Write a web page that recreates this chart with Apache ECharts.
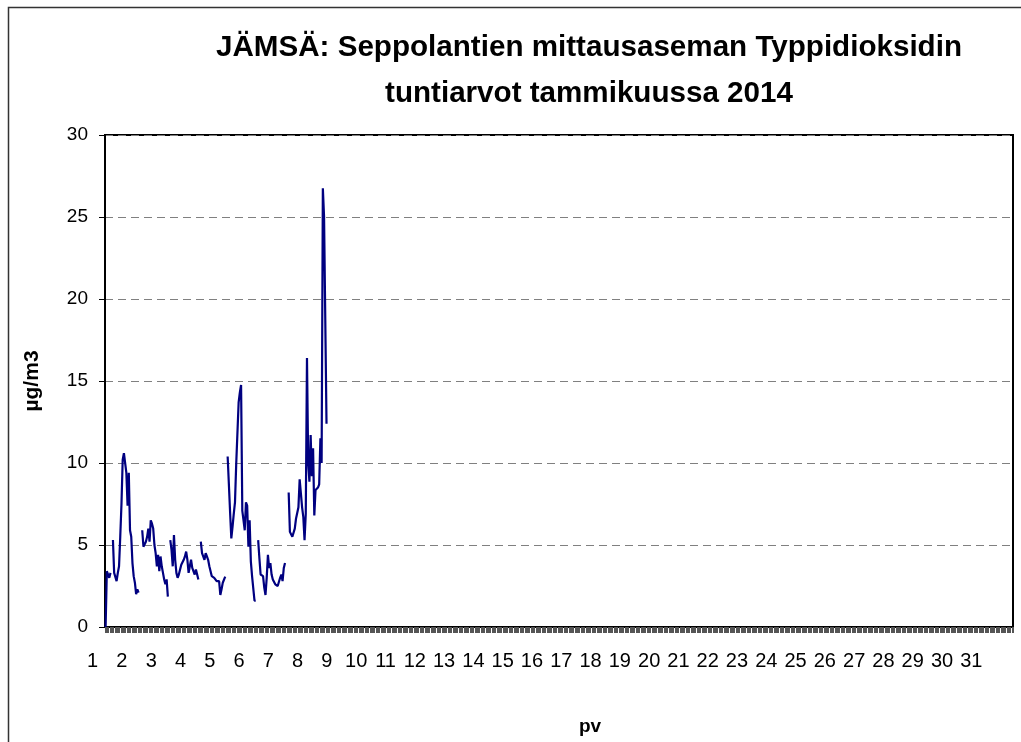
<!DOCTYPE html>
<html>
<head>
<meta charset="utf-8">
<script src="https://cdn.jsdelivr.net/npm/echarts@6/dist/echarts.min.js"></script>
<style>
  html, body { margin: 0; padding: 0; background: #fff; }
  #main { width: 1021px; height: 742px; }
</style>
</head>
<body>
<div id="main"></div>
<script>
// tammikuu 2014, tunnit 1.1. klo 0 alkaen
const dayLabels = ['1', '2', '3', '4', '5', '6', '7', '8', '9', '10', '11', '12', '13', '14', '15', '16',
  '17', '18', '19', '20', '21', '22', '23', '24', '25', '26', '27', '28', '29', '30', '31']
const hoursPerDay = 24
const yTicks = [0, 5, 10, 15, 20, 25, 30]

// NO2 tuntiarvot (µg/m3), null = puuttuva tunti
const no2Hourly = [
  0, 3.4, 3.3, 3.0, 3.3, null,
  5.3, 3.3, 3.4, 2.8, 3.3, 3.7, 5.5, 7.5, 10.2, 10.6, 10.6, 9.4, 7.4, 9.4, 5.9, 5.5, 3.9, 3.1, 2.7, 2.0, 2.3, 2.1,
  null, null,
  5.9, 4.9, 4.8, 5.2, 5.5, 6.0, 5.2, 6.5, 6.3, 6.0, 5.0, 4.5, 3.7, 4.4, 3.4, 4.3, 3.7, 3.3, 2.9, 2.6, 2.9, 1.85,
  null,
  5.3, 4.7, 3.7, 5.6, 4.1, 3.3, 3.0, 3.2, 3.1, 3.8, 3.9, 4.1, 4.3, 4.6, 4.1, 3.3, 3.7, 4.1, 3.6, 3.7, 3.2, 3.5, 3.2, 2.9,
  null,
  5.2, 4.5, 4.6, 4.1, 4.5, 4.3, 4.1, 3.7, 3.4, 3.1, 3.1, 3.0, 2.9, 2.8, 2.7, 2.8, 1.95, 2.3, 2.7, 2.7, 3.07,
  null,
  10.4, 8.7, 7.0, 5.4, 6.1, 6.9, 7.6, 9.9, 10.0, 13.7, 14.3, 14.76, 7.1, 6.5, 5.9, 7.6, 7.4, 4.9, 6.5, 4.0, 3.1, 3.07, 1.6, 1.6,
  null,
  5.3, 4.2, 3.2, 3.2, 3.1, 2.4, 1.95, 3.0, 4.4, 3.6, 3.9, 3.2, 2.9, 2.8, 2.6, 2.5, 2.5, 2.6, 3.0, 3.2, 2.8, 3.6, 3.9,
  null, null,
  8.2, 5.8, 5.7, 5.5, 5.4, 6.0, 6.6, 6.6, 7.3, 9.0, 9.07, 7.3, 6.7, 5.3, 6.9, 16.4, 10.0, 8.86, 11.7, 9.2, 10.9, 6.8,
  8.35, 8.4, 8.5, 8.7, 11.5, 10.0, 26.75, 25.0, 18.7, 12.4
]

let hourCategories = []
dayLabels.forEach(d => {
  for (let h = 0; h < hoursPerDay; h++) {
    hourCategories.push(d + ' ' + h + ':00')
  }
})

const font = '"Liberation Sans", Arial, sans-serif'
let chart = echarts.init(document.getElementById('main'))
chart.setOption({
  animation: false,
  backgroundColor: '#fff',
  grid: {
    left: 105,
    top: 135,
    right: 8,
    bottom: 115,
    containLabel: false,
    outerBoundsMode: 'none',
    show: true,
    borderColor: '#000',
    borderWidth: 2,
    backgroundColor: '#fff'
  },
  graphic: [
    {
      type: 'rect',
      shape: { x: 8.5, y: 7.5, width: 1040, height: 780 },
      style: { fill: null, stroke: '#333', lineWidth: 1.5 },
      silent: true
    },
    {
      type: 'text',
      x: 589,
      y: 48,
      style: {
        text: 'JÄMSÄ: Seppolantien mittausaseman Typpidioksidin',
        font: 'bold 29.6px ' + font,
        fill: '#000',
        align: 'center',
        verticalAlign: 'middle'
      }
    },
    {
      type: 'text',
      x: 589,
      y: 94,
      style: {
        text: 'tuntiarvot tammikuussa 2014',
        font: 'bold 29.6px ' + font,
        fill: '#000',
        align: 'center',
        verticalAlign: 'middle'
      }
    }
  ],
  xAxis: {
    type: 'category',
    data: hourCategories,
    boundaryGap: true,
    name: 'pv',
    nameLocation: 'middle',
    nameGap: 90,
    nameTextStyle: {
      fontFamily: font,
      fontSize: 19,
      fontWeight: 'bold',
      color: '#000',
      padding: [0, 0, 0, 62]
    },
    axisLine: { lineStyle: { color: '#000', width: 2 } },
    axisTick: {
      show: true,
      interval: 0,
      inside: false,
      length: 6,
      lineStyle: { color: '#555', width: 1 }
    },
    axisLabel: {
      interval: hoursPerDay - 1,
      margin: 24,
      fontFamily: font,
      fontSize: 20,
      color: '#000',
      padding: [0, 26, 0, 0],
      formatter: v => v.split(' ')[0]
    },
    splitLine: { show: false }
  },
  yAxis: {
    type: 'value',
    min: yTicks[0],
    max: yTicks[yTicks.length - 1],
    interval: 5,
    name: 'µg/m3',
    nameLocation: 'middle',
    nameGap: 62,
    nameRotate: 90,
    nameTextStyle: {
      fontFamily: font,
      fontSize: 21,
      fontWeight: 'bold',
      color: '#000'
    },
    axisLine: { show: true, lineStyle: { color: '#000', width: 2 } },
    axisTick: { show: true, length: 6, lineStyle: { color: '#000', width: 1 } },
    axisLabel: {
      margin: 17,
      fontFamily: font,
      fontSize: 19,
      color: '#000'
    },
    splitLine: {
      show: true,
      lineStyle: { color: '#808080', type: [8, 5], width: 1 }
    }
  },
  series: [{
    name: 'NO2',
    type: 'line',
    data: no2Hourly,
    showSymbol: false,
    symbol: 'none',
    connectNulls: false,
    lineStyle: { color: '#000080', width: 2.2 },
    itemStyle: { color: '#000080' }
  }]
})
</script>
</body>
</html>
